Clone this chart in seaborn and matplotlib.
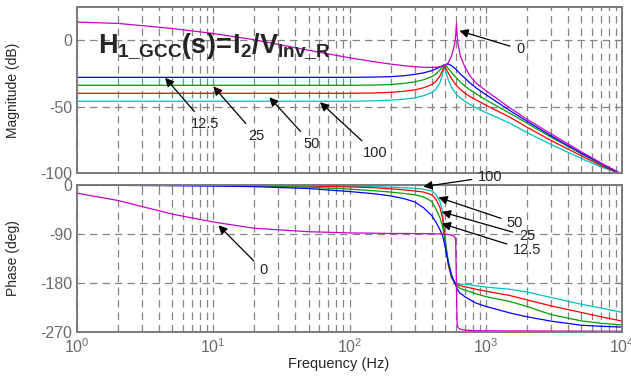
import matplotlib
matplotlib.use('Agg')
import matplotlib.pyplot as plt
import numpy as np
import pandas as pd
import seaborn as sns
from matplotlib.ticker import LogLocator, FixedLocator, NullFormatter

sns.set_style('white')
plt.rcParams['font.family'] = ['Liberation Sans', 'DejaVu Sans']
plt.rcParams['axes.unicode_minus'] = False
plt.rcParams['mathtext.fontset'] = 'custom'
plt.rcParams['mathtext.rm'] = 'Liberation Sans'
plt.rcParams['mathtext.bf'] = 'Liberation Sans:bold'
plt.rcParams['mathtext.it'] = 'Liberation Sans:italic'

# Frequency points (Hz)
freq = [1, 2, 5, 10, 20, 50, 100, 150, 200, 250, 300, 350, 400, 430, 460, 480,
        495, 510, 530, 560, 590, 600, 608, 615, 625, 650, 700, 766, 850, 1000,
        1500, 2000, 3000, 5000, 7000, 10000]

r_values = ['0', '12.5', '25', '50', '100']

# Magnitude (dB) for each R
mag_r0 = [13.6, 12.6, 8.8, 5.0, 0.3, -7.6, -13.3, -16.2, -18.0, -19.2, -20.0, -20.4,
          -20.5, -20.4, -20.0, -19.5, -19.0, -18.3, -17.0, -12.0, -3.0, 3.0, 12.6, 4.0,
          -3.0, -12.0, -20.0, -27.0, -32.5, -38.0, -51.0, -59.5, -70.5, -84.0, -92.5, -101.0]
mag_r12 = [-28.0, -28.0, -28.0, -28.0, -28.0, -28.0, -28.0, -27.8, -27.5, -26.8, -25.8, -24.6,
           -23.0, -21.6, -20.2, -19.4, -18.8, -18.2, -18.0, -19.2, -21.0, -21.8, -22.4, -23.0,
           -23.7, -25.5, -28.5, -32.3, -36.0, -41.0, -53.0, -61.0, -72.0, -85.0, -93.0, -101.0]
mag_r25 = [-34.0, -34.0, -34.0, -34.0, -34.0, -34.0, -34.0, -33.8, -33.4, -32.6, -31.4, -29.8,
           -27.5, -25.5, -22.5, -20.0, -18.6, -19.2, -21.3, -24.3, -27.0, -27.8, -28.4, -29.0,
           -29.8, -31.5, -34.5, -37.5, -40.5, -45.0, -55.0, -62.5, -73.0, -85.5, -93.5, -101.0]
mag_r50 = [-40.0, -40.0, -40.0, -40.0, -40.0, -40.0, -40.0, -39.8, -39.3, -38.5, -37.5, -35.8,
           -33.5, -31.0, -27.0, -23.0, -19.2, -21.5, -24.8, -29.0, -32.3, -33.3, -34.0, -34.6,
           -35.4, -37.0, -39.8, -42.5, -45.0, -49.0, -58.0, -65.5, -75.5, -87.0, -94.5, -101.0]
mag_r100 = [-46.0, -46.0, -46.0, -46.0, -46.0, -46.0, -46.0, -45.7, -45.2, -44.5, -43.5, -41.8,
            -39.5, -37.0, -32.0, -26.0, -20.0, -24.5, -30.0, -35.5, -39.0, -40.0, -40.6, -41.2,
            -42.0, -43.5, -46.0, -48.5, -51.0, -54.5, -62.5, -69.5, -78.5, -89.0, -95.5, -101.0]

# Phase (deg) for each R
ph_r0 = [-15.0, -28.5, -53.5, -68.0, -79.5, -85.8, -88.0, -88.5, -89.0, -89.0, -89.2, -89.3,
         -89.5, -89.6, -89.8, -90.0, -90.3, -90.6, -91.0, -92.0, -95.0, -100.0, -180.0, -255.0,
         -262.0, -265.0, -266.5, -267.0, -267.5, -267.8, -268.0, -268.0, -268.2, -268.3, -268.4, -268.5]
ph_r12 = [-0.3, -0.6, -1.3, -2.0, -3.0, -6.5, -12.0, -16.0, -20.0, -25.0, -31.0, -42.0,
          -56.0, -68.0, -82.0, -92.0, -106.0, -122.0, -142.0, -165.0, -180.0, -184.0, -187.0, -190.0,
          -194.0, -199.0, -205.0, -211.0, -217.0, -223.0, -235.0, -242.0, -250.0, -257.5, -259.5, -261.0]
ph_r25 = [0.0, -0.2, -0.5, -1.0, -1.8, -4.0, -7.5, -10.5, -13.0, -15.5, -18.0, -22.0,
          -30.0, -44.0, -60.0, -75.0, -92.0, -115.0, -143.0, -169.0, -179.0, -181.0, -183.0, -185.0,
          -187.0, -190.0, -193.0, -196.0, -200.0, -205.0, -214.0, -223.0, -238.0, -249.5, -254.0, -257.0]
ph_r50 = [0.0, -0.1, -0.3, -0.5, -0.8, -1.8, -3.5, -5.0, -7.0, -9.0, -11.0, -13.0,
          -18.0, -26.0, -41.0, -60.0, -85.0, -115.0, -147.0, -171.0, -179.0, -180.5, -181.5, -182.5,
          -183.5, -185.0, -187.0, -189.0, -191.5, -195.0, -203.0, -211.0, -222.0, -234.0, -242.0, -250.0]
ph_r100 = [0.0, 0.0, -0.1, -0.2, -0.4, -1.0, -2.0, -3.0, -4.0, -5.0, -6.0, -8.0,
           -11.0, -17.0, -30.0, -48.0, -78.0, -110.0, -140.0, -169.0, -178.0, -179.5, -180.5, -181.0,
           -181.5, -182.0, -182.8, -183.5, -185.0, -187.5, -191.5, -196.5, -206.5, -219.0, -226.0, -234.0]

mags = [mag_r0, mag_r12, mag_r25, mag_r50, mag_r100]
phases = [ph_r0, ph_r12, ph_r25, ph_r50, ph_r100]

frames = []
for r, m, p in zip(r_values, mags, phases):
    frames.append(pd.DataFrame({'freq': freq, 'mag': m, 'phase': p, 'R': r}))
df = pd.concat(frames, ignore_index=True)

palette = {'0': '#cc00cc', '12.5': '#0000ff', '25': '#00a000', '50': '#ff0000', '100': '#00c0c0'}
order = ['100', '50', '25', '12.5', '0']

fig = plt.figure(figsize=(6.31, 3.76), dpi=100)
ax1 = fig.add_axes([0.122, 0.540, 0.864, 0.4415])
ax2 = fig.add_axes([0.122, 0.117, 0.864, 0.391])

sns.lineplot(data=df, x='freq', y='mag', hue='R', hue_order=order, palette=palette,
             estimator=None, legend=False, lw=0.9, ax=ax1)
sns.lineplot(data=df, x='freq', y='phase', hue='R', hue_order=order, palette=palette,
             estimator=None, legend=False, lw=0.9, ax=ax2)

grid_kw = dict(color='#858585', lw=0.9, ls=(0, (6, 4)))
for ax in (ax1, ax2):
    ax.set_xscale('log')
    ax.set_xlim(1, 1e4)
    ax.xaxis.set_minor_locator(LogLocator(base=10, subs=np.arange(2, 10)))
    ax.xaxis.set_minor_formatter(NullFormatter())
    ax.grid(True, which='both', axis='x', **grid_kw)
    ax.grid(True, which='major', axis='y', **grid_kw)
    ax.set_axisbelow(True)
    for s in ax.spines.values():
        s.set_color('#7a7a7a')
        s.set_linewidth(1.4)
    ax.tick_params(which='both', direction='in', top=True, right=True,
                   color='#7a7a7a', labelcolor='#6a6a6a', labelsize=11.5)
    ax.tick_params(which='major', length=4)
    ax.tick_params(which='minor', length=2)
    ax.set_xlabel('')

ax1.set_ylim(-100, 25)
ax1.yaxis.set_major_locator(FixedLocator([0, -50, -100]))
ax1.set_xticklabels([])
ax1.set_ylabel('Magnitude (dB)', fontsize=10)
ax1.yaxis.set_label_coords(-0.105, 0.5)

ax2.set_ylim(-270, 0)
ax2.yaxis.set_major_locator(FixedLocator([0, -90, -180, -270]))
ax2.set_ylabel('Phase (deg)', fontsize=10)
ax2.yaxis.set_label_coords(-0.105, 0.5)
ax2.set_xlabel('Frequency (Hz)', fontsize=10.5)
ax2.xaxis.set_label_coords(0.479, -0.17)

ax1.text(1.43, -9, r'$\mathbf{H_{1\_GCC}(s)\!=\!I_{2}/V_{Inv\_R}}$', fontsize=19.5,
         ha='left', va='baseline')

arrow = dict(arrowstyle='-|>', color='k', lw=0.9, mutation_scale=13, shrinkB=0)
ann_kw = dict(ha='center', va='center', fontsize=10.5, arrowprops=arrow)

# magnitude annotations
ax1.annotate('0', xy=(640, 7), xytext=(1783, -6.8), **ann_kw)
ax1.annotate('12.5', xy=(4.43, -28.3), xytext=(8.7, -63), **ann_kw)
ax1.annotate('25', xy=(10, -34.8), xytext=(20.8, -72), **ann_kw)
ax1.annotate('50', xy=(25.8, -43), xytext=(52.8, -78), **ann_kw)
ax1.annotate('100', xy=(60.7, -46.7), xytext=(154, -85), **ann_kw)

# phase annotations
ax2.annotate('0', xy=(10.9, -74), xytext=(23.3, -157), **ann_kw)
ax2.annotate('100', xy=(348, -3), xytext=(1074, 15), **ann_kw)
ax2.annotate('50', xy=(449, -22.7), xytext=(1639, -70), **ann_kw)
ax2.annotate('25', xy=(475, -49.4), xytext=(2000, -94), **ann_kw)
ax2.annotate('12.5', xy=(475, -70.8), xytext=(2000, -120), **ann_kw)

fig.savefig('out.png', dpi=100)
